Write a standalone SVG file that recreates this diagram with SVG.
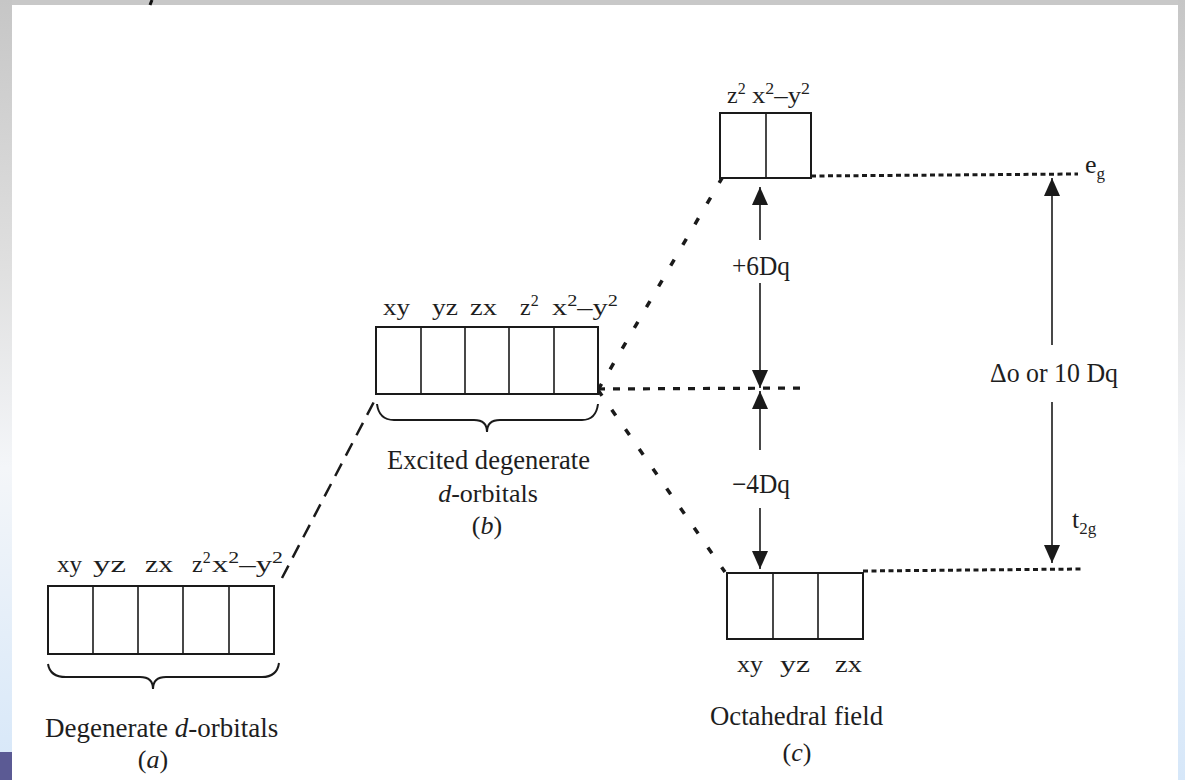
<svg xmlns="http://www.w3.org/2000/svg" width="1185" height="780" viewBox="0 0 1185 780">
<defs>
<linearGradient id="side" x1="0" y1="0" x2="0" y2="1">
<stop offset="0" stop-color="#c6c6c6"/>
<stop offset="0.35" stop-color="#e0e0e0"/>
<stop offset="0.6" stop-color="#f4f6f9"/>
<stop offset="1" stop-color="#d6e7f9"/>
</linearGradient>
<marker id="ah" viewBox="0 0 18 16" refX="18" refY="8" markerWidth="18" markerHeight="16" markerUnits="userSpaceOnUse" orient="auto">
<path d="M0,0 L18,8 L0,16 z" fill="#1a1a1a"/>
</marker>
<style>
text{font-family:"Liberation Serif","Times New Roman",serif;fill:#1e1e1e}
.lbl{font-size:24px}
.cap{font-size:28px}
.par{font-size:26px}
.val{font-size:27px}
.box{fill:#fff;stroke:#1a1a1a;stroke-width:2}
.div{stroke:#1a1a1a;stroke-width:1.6}
.brace{fill:none;stroke:#1a1a1a;stroke-width:2}
.dotH{fill:none;stroke:#1a1a1a;stroke-width:3;stroke-dasharray:5 3.5}
.dotM{fill:none;stroke:#1a1a1a;stroke-width:3.2;stroke-dasharray:7 8}
.dotD{fill:none;stroke:#1a1a1a;stroke-width:3.5;stroke-dasharray:7 17}
.dash{fill:none;stroke:#1a1a1a;stroke-width:2.5;stroke-dasharray:14 9}
.arr{fill:none;stroke:#1a1a1a;stroke-width:1.6;marker-end:url(#ah)}
</style>
</defs>

<g id="background">
<rect x="0" y="0" width="1185" height="780" fill="#c8c8c8"/>
<rect x="0" y="0" width="12" height="780" fill="url(#side)"/>
<rect x="1178" y="0" width="7" height="780" fill="url(#side)"/>
<rect x="0" y="752" width="12" height="28" fill="#5b5a94"/>
<rect x="12" y="5" width="1166" height="775" fill="#ffffff"/>
<path d="M152,0 L150,5" stroke="#111" stroke-width="3"/>
</g>

<g id="connectors">
<line class="dash" x1="282" y1="578" x2="378" y2="394"/>
<line class="dotD" x1="598" y1="390" x2="722" y2="178"/>
<line class="dotD" x1="598" y1="390" x2="725" y2="572"/>
<line class="dotM" x1="598" y1="389" x2="807" y2="388"/>
<line class="dotH" x1="811" y1="176" x2="1078" y2="174"/>
<line class="dotH" x1="863" y1="571" x2="1082" y2="569"/>
<line class="arr" x1="760" y1="240" x2="760" y2="187"/>
<line class="arr" x1="760" y1="283" x2="760" y2="388"/>
<line class="arr" x1="760" y1="450" x2="760" y2="391"/>
<line class="arr" x1="760" y1="508" x2="760" y2="569"/>
<line class="arr" x1="1052" y1="345" x2="1052" y2="178"/>
<line class="arr" x1="1052" y1="402" x2="1052" y2="563"/>
<text class="val" x="732" y="275" textLength="58" lengthAdjust="spacingAndGlyphs">+6Dq</text>
<text class="val" x="732" y="493" textLength="58" lengthAdjust="spacingAndGlyphs">−4Dq</text>
<text class="val" x="990" y="382" textLength="128" lengthAdjust="spacingAndGlyphs">Δo or 10 Dq</text>
</g>

<g id="node-a">
<rect class="box" x="48" y="586" width="226" height="68"/>
<line class="div" x1="93" y1="586" x2="93" y2="654"/>
<line class="div" x1="138" y1="586" x2="138" y2="654"/>
<line class="div" x1="183" y1="586" x2="183" y2="654"/>
<line class="div" x1="229" y1="586" x2="229" y2="654"/>
<text class="lbl" x="57" y="572" textLength="25" lengthAdjust="spacingAndGlyphs">xy</text>
<text class="lbl" x="93" y="572" textLength="33" lengthAdjust="spacingAndGlyphs">yz</text>
<text class="lbl" x="145" y="572" textLength="28" lengthAdjust="spacingAndGlyphs">zx</text>
<text class="lbl" x="192" y="572">z<tspan dy="-9" font-size="16">2</tspan></text>
<text class="lbl" x="212" y="572" textLength="71" lengthAdjust="spacingAndGlyphs">x<tspan dy="-9" font-size="16">2</tspan><tspan dy="9">–y</tspan><tspan dy="-9" font-size="16">2</tspan></text>
<path class="brace" d="M48,664 Q50,677 66,677 L140,677 Q153,677 153,689 Q153,677 166,677 L262,677 Q277,677 279,663"/>
<text x="45" y="737" font-size="27">Degenerate <tspan font-style="italic">d</tspan>-orbitals</text>
<text class="par" x="153" y="768" text-anchor="middle">(<tspan font-style="italic">a</tspan>)</text>
</g>

<g id="node-b">
<rect class="box" x="376" y="327" width="222" height="67"/>
<line class="div" x1="421" y1="327" x2="421" y2="394"/>
<line class="div" x1="465" y1="327" x2="465" y2="394"/>
<line class="div" x1="509" y1="327" x2="509" y2="394"/>
<line class="div" x1="554" y1="327" x2="554" y2="394"/>
<text class="lbl" x="383" y="315" textLength="27" lengthAdjust="spacingAndGlyphs">xy</text>
<text class="lbl" x="432" y="315" textLength="26" lengthAdjust="spacingAndGlyphs">yz</text>
<text class="lbl" x="470" y="315" textLength="27" lengthAdjust="spacingAndGlyphs">zx</text>
<text class="lbl" x="520" y="315">z<tspan dy="-9" font-size="16">2</tspan></text>
<text class="lbl" x="552" y="315" textLength="66" lengthAdjust="spacingAndGlyphs">x<tspan dy="-9" font-size="16">2</tspan><tspan dy="9">–y</tspan><tspan dy="-9" font-size="16">2</tspan></text>
<path class="brace" d="M377,404 Q379,420 394,420 L474,420 Q487,420 487,432 Q487,420 500,420 L582,420 Q596,420 598,404"/>
<text class="cap" x="387" y="469" textLength="203" lengthAdjust="spacingAndGlyphs">Excited degenerate</text>
<text x="488" y="502" font-size="26" text-anchor="middle"><tspan font-style="italic">d</tspan>-orbitals</text>
<text class="par" x="487" y="534" text-anchor="middle">(<tspan font-style="italic">b</tspan>)</text>
</g>

<g id="node-eg">
<rect class="box" x="720" y="113" width="91" height="65"/>
<line class="div" x1="766" y1="113" x2="766" y2="178"/>
<text class="lbl" x="727" y="103">z<tspan dy="-9" font-size="16">2</tspan></text>
<text class="lbl" x="752" y="103" textLength="58" lengthAdjust="spacingAndGlyphs">x<tspan dy="-9" font-size="16">2</tspan><tspan dy="9">–y</tspan><tspan dy="-9" font-size="16">2</tspan></text>
<text x="1085" y="173" font-size="26">e<tspan dy="6" font-size="17">g</tspan></text>
</g>

<g id="node-t2g">
<rect class="box" x="727" y="573" width="136" height="66"/>
<line class="div" x1="773" y1="573" x2="773" y2="639"/>
<line class="div" x1="818" y1="573" x2="818" y2="639"/>
<text class="lbl" x="737" y="672" textLength="26" lengthAdjust="spacingAndGlyphs">xy</text>
<text class="lbl" x="780" y="672" textLength="30" lengthAdjust="spacingAndGlyphs">yz</text>
<text class="lbl" x="835" y="672" textLength="27" lengthAdjust="spacingAndGlyphs">zx</text>
<text class="cap" x="710" y="725" textLength="173" lengthAdjust="spacingAndGlyphs">Octahedral field</text>
<text class="par" x="797" y="761" text-anchor="middle">(<tspan font-style="italic">c</tspan>)</text>
<text x="1072" y="528" font-size="26">t<tspan dy="6" font-size="17">2g</tspan></text>
</g>
</svg>
